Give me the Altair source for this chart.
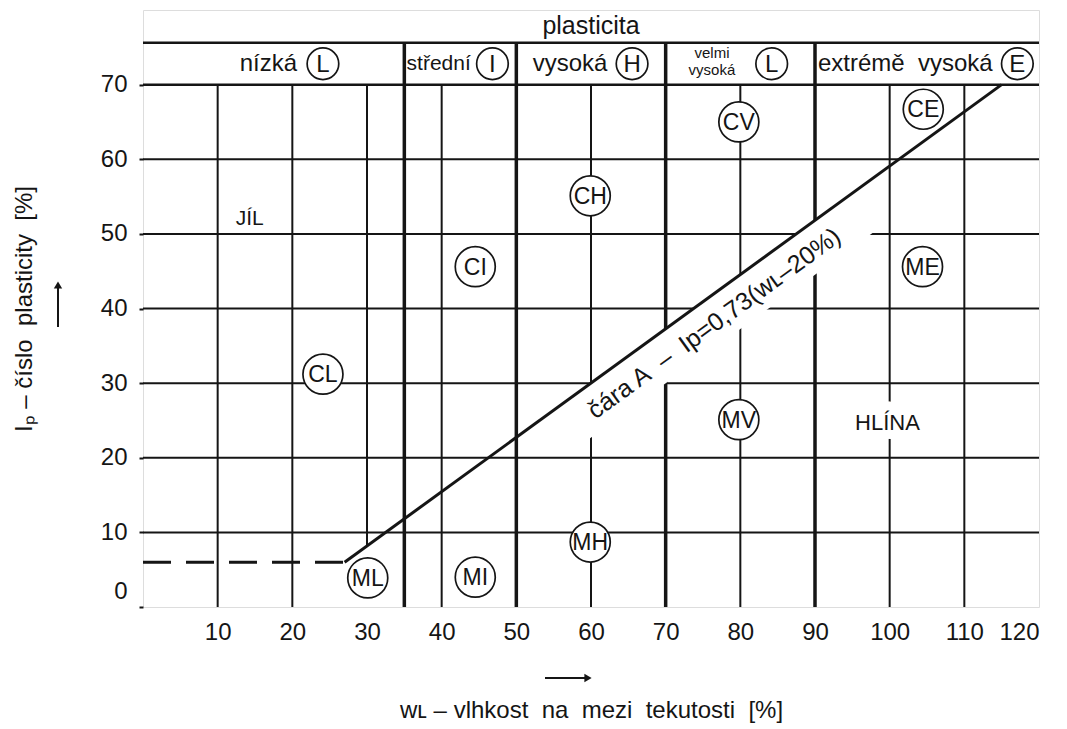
import altair as alt
import numpy as np
import pandas as pd

# ---------------- values ----------------
x_ticks = [10, 20, 30, 40, 50, 60, 70, 80, 90, 100, 110, 120]
y_ticks = [0, 10, 20, 30, 40, 50, 60, 70]

thin_x = [10, 20, 30, 40, 60, 80, 100, 110]
bold_x = [35, 50, 70, 90]
grid_y = [10, 20, 30, 40, 50, 60]
head_lines_y = [70, 75.6]

aline_x = [27, 115]
aline_y = [6, 70]
dash_x = [0, 27]
dash_y = [6, 6]

soil_codes = ["CL", "ML", "CI", "MI", "CH", "MH", "CV", "MV", "CE", "ME"]
soil_x = [24.1, 30.1, 44.5, 44.5, 59.9, 59.9, 79.8, 79.8, 104.5, 104.4]
soil_y = [31.2, 3.9, 45.6, 4.0, 55.1, 8.7, 65.0, 25.1, 66.7, 45.6]

clay_word, clay_x, clay_y = "JÍL", 14.3, 52.0
silt_word, silt_x, silt_y = "HLÍNA", 99.7, 24.6

NB = "\u00a0"
head_words = ["nízká", "vysoká", "extrémě" + NB + NB + "vysoká"]
head_x = [16.8, 57.2, 102.1]
head_mid_word = "střední"
head_mid_x = 39.6
head_small_words = ["velmi", "vysoká"]
head_small_x = [76.2, 76.2]
head_small_y = [74.3, 72.0]
head_codes = ["L", "I", "H", "L", "E"]
head_code_x = [24.1, 46.8, 65.5, 84.2, 117.1]
head_row_y = 72.8
super_title = "plasticita"
super_x, super_y = 60, 77.8

aline_label = "čára A" + NB + NB + "–" + NB + NB + "Ip=0,73(wʟ–20%)"
aline_label_x, aline_label_y = 76.5, 38.0

x_title = "wʟ" + NB + "–" + NB + "vlhkost" + NB + NB + "na" + NB + NB + "mezi" + NB + NB + "tekutosti" + NB + NB + "[%]"
y_title = "Iₚ" + NB + "–" + NB + "číslo" + NB + NB + "plasticity" + NB + NB + "[%]"

X_MAX, Y_TOP = 120, 80
FONT = "Liberation Sans"
INK = "#151515"

W, H = 896, 597

# ---------------- derived tables ----------------
def aline(x):
    return float(np.interp(x, aline_x, aline_y))

vthin = pd.DataFrame({"x": thin_x,
                      "y0": [aline(v) if aline_x[0] < v < aline_x[0] + 5 else 0 for v in thin_x],
                      "y1": 70})
vbold = pd.DataFrame({"x": bold_x, "y0": 0, "y1": head_lines_y[1]})
hgrid = pd.DataFrame({"y": grid_y, "x0": 0, "x1": X_MAX})
hhead = pd.DataFrame({"y": head_lines_y, "x0": 0, "x1": X_MAX})

# white strip under the A-line where its label sits (grid is interrupted there)
band_x = [57.5, 98.0]
band = pd.DataFrame({"x": band_x, "y": [aline(v) - 3.65 for v in band_x]})

aline_df = pd.DataFrame({"x": aline_x, "y": aline_y})
dash_df = pd.DataFrame({"x": dash_x, "y": dash_y})
soil_df = pd.DataFrame({"code": soil_codes, "x": soil_x, "y": soil_y})
clay_df = pd.DataFrame({"t": [clay_word], "x": [clay_x], "y": [clay_y]})
silt_df = pd.DataFrame({"t": [silt_word], "x": [silt_x], "y": [silt_y]})
head_df = pd.DataFrame({"t": head_words, "x": head_x, "y": head_row_y})
head_mid_df = pd.DataFrame({"t": [head_mid_word], "x": [head_mid_x], "y": [head_row_y]})
head_small_df = pd.DataFrame({"t": head_small_words, "x": head_small_x, "y": head_small_y})
head_code_df = pd.DataFrame({"t": head_codes, "x": head_code_x, "y": head_row_y})
super_df = pd.DataFrame({"t": [super_title], "x": [super_x], "y": [super_y]})
alabel_df = pd.DataFrame({"t": [aline_label], "x": [aline_label_x], "y": [aline_label_y]})
one = pd.DataFrame({"a": [0]})

xs = alt.Scale(domain=[0, X_MAX], nice=False, zero=False)
ys = alt.Scale(domain=[0, Y_TOP], nice=False, zero=False)

x_axis = alt.Axis(values=x_ticks, ticks=False, domain=False, grid=False,
                  labelFont=FONT, labelFontSize=24, labelColor=INK, labelPadding=13,
                  title=x_title,
                  titleFont=FONT, titleFontSize=24, titleFontWeight="normal",
                  titleColor=INK, titlePadding=54)
y_axis = alt.Axis(values=y_ticks, ticks=True, tickSize=4, tickColor=INK, tickWidth=2,
                  domain=False, grid=False,
                  labelFont=FONT, labelFontSize=24, labelColor=INK, labelPadding=12,
                  labelOffset={"condition": {"test": "datum.value === 0", "value": -16}, "value": 0},
                  title=y_title,
                  titleFont=FONT, titleFontSize=24, titleFontWeight="normal",
                  titleColor=INK, titlePadding=64)


def X(f):
    return alt.X(f, type="quantitative", scale=xs, axis=x_axis)


def Y(f):
    return alt.Y(f, type="quantitative", scale=ys, axis=y_axis)


l_vthin = alt.Chart(vthin).mark_rule(color=INK, strokeWidth=2).encode(
    x=X("x"), y=Y("y0"), y2="y1:Q")
l_vbold = alt.Chart(vbold).mark_rule(color=INK, strokeWidth=3.5).encode(
    x=X("x"), y=Y("y0"), y2="y1:Q")
l_hgrid = alt.Chart(hgrid).mark_rule(color=INK, strokeWidth=2).encode(
    y=Y("y"), x=X("x0"), x2="x1:Q")
l_hhead = alt.Chart(hhead).mark_rule(color=INK, strokeWidth=2.5).encode(
    y=Y("y"), x=X("x0"), x2="x1:Q")
l_band = alt.Chart(band).mark_line(color="white", strokeWidth=44, strokeCap="butt").encode(
    x=X("x"), y=Y("y"))
l_aline = alt.Chart(aline_df).mark_line(color=INK, strokeWidth=3).encode(
    x=X("x"), y=Y("y"))
l_dash = alt.Chart(dash_df).mark_line(color=INK, strokeWidth=3, strokeDash=[28, 15]).encode(
    x=X("x"), y=Y("y"))
l_alabel = alt.Chart(alabel_df).mark_text(font=FONT, fontSize=25, color=INK, angle=324,
                                           align="center", baseline="middle").encode(
    x=X("x"), y=Y("y"), text="t:N")
l_clay = alt.Chart(clay_df).mark_text(font=FONT, fontSize=21, color=INK,
                                       baseline="middle").encode(
    x=X("x"), y=Y("y"), text="t:N")
l_silt_knock = alt.Chart(silt_df).mark_text(font=FONT, fontSize=22, color="white",
                                             stroke="white", strokeWidth=18, strokeJoin="round",
                                             baseline="middle").encode(
    x=X("x"), y=Y("y"), text="t:N")
l_silt = alt.Chart(silt_df).mark_text(font=FONT, fontSize=22, color=INK,
                                       baseline="middle").encode(
    x=X("x"), y=Y("y"), text="t:N")
l_soil_c = alt.Chart(soil_df).mark_point(shape="circle", size=1600, fill="white", fillOpacity=1,
                                          stroke=INK, strokeWidth=1.7, opacity=1).encode(
    x=X("x"), y=Y("y"))
l_soil_t = alt.Chart(soil_df).mark_text(font=FONT, fontSize=23, color=INK,
                                         baseline="middle", dy=1).encode(
    x=X("x"), y=Y("y"), text="code:N")
l_head = alt.Chart(head_df).mark_text(font=FONT, fontSize=24, color=INK, baseline="middle").encode(
    x=X("x"), y=Y("y"), text="t:N")
l_head_mid = alt.Chart(head_mid_df).mark_text(font=FONT, fontSize=21, color=INK,
                                               baseline="middle").encode(
    x=X("x"), y=Y("y"), text="t:N")
l_head_small = alt.Chart(head_small_df).mark_text(font=FONT, fontSize=15, color=INK,
                                                   baseline="middle").encode(
    x=X("x"), y=Y("y"), text="t:N")
l_head_c = alt.Chart(head_code_df).mark_point(shape="circle", size=1000, fill="white", fillOpacity=1,
                                               stroke=INK, strokeWidth=1.7, opacity=1).encode(
    x=X("x"), y=Y("y"))
l_head_t = alt.Chart(head_code_df).mark_text(font=FONT, fontSize=24, color=INK,
                                              baseline="middle", dy=1).encode(
    x=X("x"), y=Y("y"), text="t:N")
l_super = alt.Chart(super_df).mark_text(font=FONT, fontSize=25, color=INK, baseline="middle").encode(
    x=X("x"), y=Y("y"), text="t:N")

# direction arrows next to the axis titles (pixel offsets from the plot's corner)
arr_x_shaft = alt.Chart(one).mark_rule(color=INK, strokeWidth=2).encode(
    x=alt.value(402), x2=alt.value(444), y=alt.value(668))
arr_x_head = alt.Chart(one).mark_point(shape="triangle-right", filled=True, size=70,
                                        color=INK, opacity=1).encode(
    x=alt.value(445), y=alt.value(668))
arr_y_shaft = alt.Chart(one).mark_rule(color=INK, strokeWidth=2).encode(
    x=alt.value(-85), y=alt.value(317), y2=alt.value(276))
arr_y_head = alt.Chart(one).mark_point(shape="triangle-up", filled=True, size=70,
                                        color=INK, opacity=1).encode(
    x=alt.value(-85), y=alt.value(275))

chart = alt.layer(
    l_vthin, l_vbold, l_hgrid, l_hhead, l_band, l_dash, l_aline, l_alabel,
    l_clay, l_silt_knock, l_silt, l_soil_c, l_soil_t,
    l_head, l_head_mid, l_head_small, l_head_c, l_head_t, l_super,
    arr_x_shaft, arr_x_head, arr_y_shaft, arr_y_head
).properties(
    width=W, height=H,
    padding={"left": 4, "top": 2, "right": 5, "bottom": 2}
).configure_view(
    stroke=INK, strokeWidth=2
).configure(background="white")

chart.save("out.html", embed_options={"renderer": "svg", "actions": False})
